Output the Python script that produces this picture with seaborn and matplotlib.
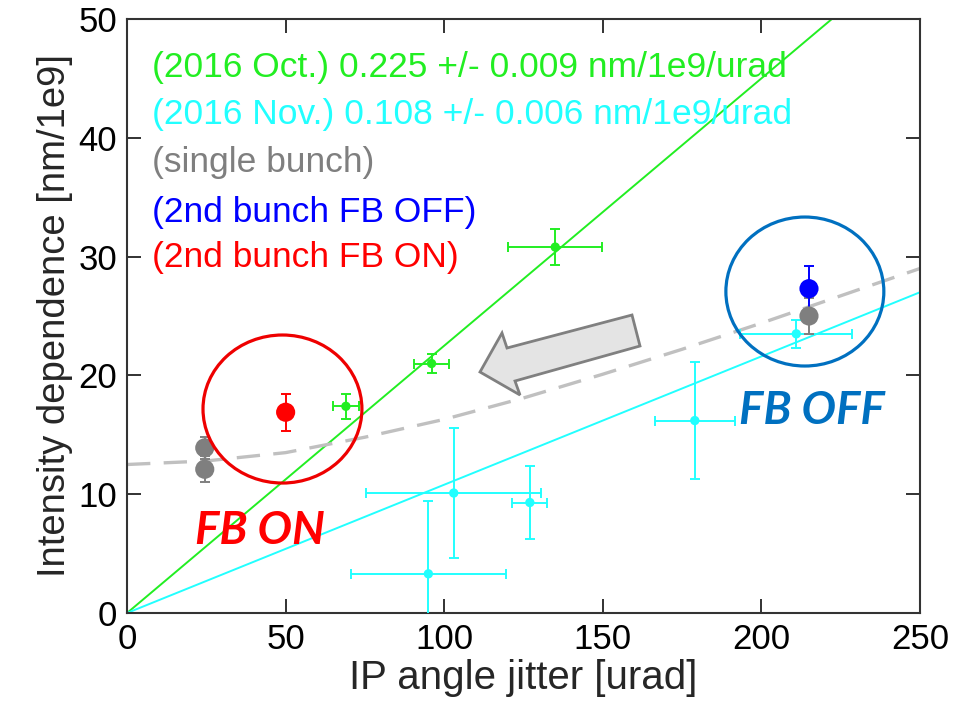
import numpy as np
import pandas as pd
import matplotlib
matplotlib.use("Agg")
import matplotlib.pyplot as plt
from matplotlib.patches import Ellipse, Polygon
import seaborn as sns

# ---------------- data ----------------
oct_x = [69, 96, 135]
oct_y = [17.4, 21.0, 30.8]
oct_xerr = [4.2, 5.4, 14.8]
oct_yerr = [1.05, 0.8, 1.5]
oct_slope = 0.225

nov_x = [95, 103, 127, 179, 211]
nov_y = [3.3, 10.1, 9.3, 16.2, 23.5]
nov_xerr = [24.5, 27.6, 5.5, 12.6, 17.6]
nov_yerr = [6.1, 5.5, 3.1, 4.9, 1.2]
nov_slope = 0.108

single_x = [24.5, 24.5, 215]
single_y = [13.9, 12.1, 25.0]
single_yerr = [0.9, 1.1, 1.5]

off_x = [215]
off_y = [27.3]
off_yerr = [1.9]

on_x = [50]
on_y = [16.9]
on_yerr = [1.55]

curve_x = [0, 25, 50, 75, 100, 125, 150, 175, 200, 225, 250]
curve_y = [12.5, 12.8, 13.5, 14.8, 16.3, 18.1, 20.1, 22.2, 24.4, 26.7, 29.0]

legend_labels = [
    "(2016 Oct.) 0.225 +/- 0.009 nm/1e9/urad",
    "(2016 Nov.) 0.108 +/- 0.006 nm/1e9/urad",
    "(single bunch)",
    "(2nd bunch FB OFF)",
    "(2nd bunch FB ON)",
]
x_ticks = [0, 50, 100, 150, 200, 250]
y_ticks = [0, 10, 20, 30, 40, 50]

GREEN = "#22ee22"
CYAN = "#22ffff"
GRAY = "#7f7f7f"
BLUE = "#0000ff"
RED = "#ff0000"
legend_colors = [GREEN, CYAN, GRAY, BLUE, RED]

# ---------------- plot ----------------
sns.set_theme(style="ticks")
plt.rcParams["font.family"] = ["Liberation Sans", "DejaVu Sans"]

fig = plt.figure(figsize=(9.72, 7.03), dpi=100)
ax = fig.add_axes([0.1307, 0.128, 0.8158, 0.845])

fit_x = np.array([0.0, 250.0])
sns.lineplot(x=fit_x, y=oct_slope * fit_x, ax=ax, color=GREEN, lw=1.4, zorder=2)
sns.lineplot(x=fit_x, y=nov_slope * fit_x, ax=ax, color=CYAN, lw=1.4, zorder=2)
sns.lineplot(x=curve_x, y=curve_y, ax=ax, color="#c0c0c0", lw=2.4, zorder=2,
             linestyle=(0, (7, 4)))

eb = dict(fmt="none", elinewidth=1.4, capsize=3.6, capthick=1.4, zorder=3)
ax.errorbar(oct_x, oct_y, xerr=oct_xerr, yerr=oct_yerr, ecolor=GREEN, **eb)
ax.errorbar(nov_x, nov_y, xerr=nov_xerr, yerr=nov_yerr, ecolor=CYAN, **eb)
ax.errorbar(single_x, single_y, yerr=single_yerr, ecolor=GRAY, **eb)
ax.errorbar(off_x, off_y, yerr=off_yerr, ecolor=BLUE, **eb)
ax.errorbar(on_x, on_y, yerr=on_yerr, ecolor=RED, **eb)

sns.scatterplot(x=oct_x, y=oct_y, ax=ax, color=GREEN, s=45, edgecolor="none", zorder=4)
sns.scatterplot(x=nov_x, y=nov_y, ax=ax, color=CYAN, s=45, edgecolor="none", zorder=4)
sns.scatterplot(x=off_x, y=off_y, ax=ax, color=BLUE, s=190, edgecolor="none", zorder=4)
sns.scatterplot(x=single_x, y=single_y, ax=ax, color=GRAY, s=190, edgecolor="none", zorder=5)
sns.scatterplot(x=on_x, y=on_y, ax=ax, color=RED, s=190, edgecolor="none", zorder=4)

ax.set_xlim(0, 250)
ax.set_ylim(0, 50)
ax.set_xticks(x_ticks)
ax.set_yticks(y_ticks)
ax.tick_params(direction="in", length=10, width=1.3, top=True, right=True,
               labelsize=25, colors="#222222", pad=7)
for lab in ax.get_xticklabels() + ax.get_yticklabels():
    lab.set_color("black")
for sp in ax.spines.values():
    sp.set_visible(True)
    sp.set_linewidth(1.5)
    sp.set_color("#333333")

ax.set_xlabel("IP angle jitter [urad]", fontsize=29, labelpad=2)
ax.set_ylabel("Intensity dependence [nm/1e9]", fontsize=27.5, labelpad=4)

# legend as coloured text
leg_y = [45.9, 41.95, 37.95, 33.75, 29.95]
for txt, col, yy in zip(legend_labels, legend_colors, leg_y):
    ax.text(0.0315, yy, txt, color=col, fontsize=25.5, va="center", ha="left",
            transform=ax.get_yaxis_transform())

# annotation circles
ax.add_patch(Ellipse((49.0, 17.17), 50.1, 12.46, fill=False, ec="#ee0000", lw=2.3, zorder=6))
ax.add_patch(Ellipse((213.7, 27.06), 49.8, 12.54, fill=False, ec="#0070c0", lw=2.3, zorder=6))

ax.text(41.9, 6.9, "FB ON", color="#ff0000", fontsize=33, fontweight="bold",
        fontstyle="italic", family=["Lato", "DejaVu Sans"], ha="center", va="center")
ax.text(216.0, 17.0, "FB OFF", color="#0070c0", fontsize=33, fontweight="bold",
        fontstyle="italic", family=["Lato", "DejaVu Sans"], ha="center", va="center")

# block arrow (pixel positions of the reference, converted to figure fraction)
arrow_px = [(480, 372), (502, 333), (507, 348), (632, 315), (640, 346), (515, 381), (520, 395)]
arrow_fig = [(px / 972.0, 1 - py / 703.0) for px, py in arrow_px]
fig.patches.append(Polygon(arrow_fig, closed=True, transform=fig.transFigure,
                           fc="#e4e4e4", ec="#808080", lw=2.0, zorder=7))

fig.savefig("out.png", dpi=100)
